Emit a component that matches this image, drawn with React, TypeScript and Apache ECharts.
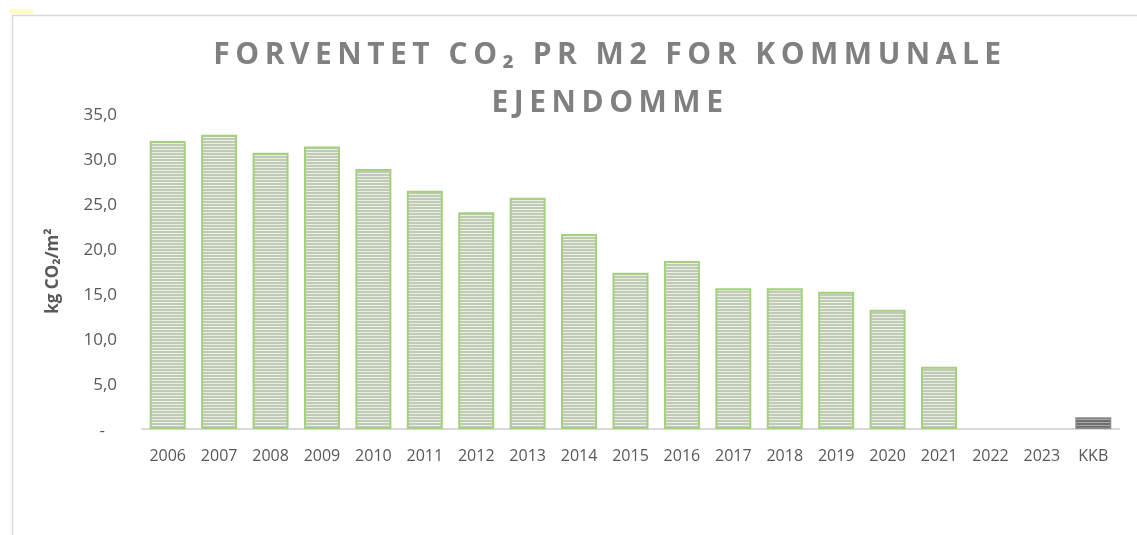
import React, { useEffect, useRef } from "react";
import * as echarts from "echarts";

const categories = ["2006","2007","2008","2009","2010","2011","2012","2013","2014","2015","2016","2017","2018","2019","2020","2021","2022","2023","KKB"];
const values = [31.9, 32.6, 30.6, 31.3, 28.8, 26.4, 24.0, 25.6, 21.6, 17.3, 18.6, 15.6, 15.6, 15.2, 13.2, 6.9, 0, 0, 1.3];
const highlighted = ["KKB"];
const yTicks = { min: 0, max: 35, interval: 5 };
const titleLines = ["FORVENTET CO\u2082 PR M2 FOR KOMMUNALE", "EJENDOMME"];
const yAxisTitle = "kg CO\u2082/m\u00b2";

const FONT = "'Open Sans', 'Noto Sans', sans-serif";

function stripes(line: string, gap: string) {
  const c = document.createElement("canvas");
  c.width = 4;
  c.height = 3;
  const ctx = c.getContext("2d")!;
  ctx.fillStyle = gap;
  ctx.fillRect(0, 0, 4, 3);
  ctx.fillStyle = line;
  ctx.fillRect(0, 0, 4, 2);
  return { image: c, repeat: "repeat" };
}

export default function App() {
  const ref = useRef<HTMLDivElement>(null);
  useEffect(() => {
    if (!ref.current) return;
    const chart = echarts.init(ref.current, null, { renderer: "svg" });
    const greenStyle = {
      color: stripes("#c2c9bb", "#e6f2dc"),
      borderColor: "#a3d17e",
      borderWidth: 2,
    };
    const greyStyle = {
      color: stripes("#6f6f6f", "#a8a8a8"),
      borderColor: "#8c8c8c",
      borderWidth: 1.5,
    };
    const titleStyle = {
      fontFamily: FONT,
      fontWeight: "bold",
      fontSize: 30,
      fill: "#808080",
      textAlign: "center",
      textVerticalAlign: "middle",
    };
    chart.setOption({
      animation: false,
      graphic: [
        { type: "line", shape: { x1: 12, y1: 15.5, x2: 1137, y2: 15.5 }, style: { stroke: "#d9d9d9", lineWidth: 1.5 } },
        { type: "line", shape: { x1: 12.5, y1: 15, x2: 12.5, y2: 535 }, style: { stroke: "#d9d9d9", lineWidth: 1.5 } },
        { type: "rect", shape: { x: 10, y: 9, width: 23, height: 5 }, style: { fill: "#fffbc4" } },
        { type: "text", x: 610, y: 52, style: { ...titleStyle, text: titleLines[0] } },
        { type: "text", x: 610, y: 100, style: { ...titleStyle, text: titleLines[1] } },
      ],
      grid: { left: 142, right: 18, top: 113, bottom: 106 },
      xAxis: {
        type: "category",
        data: categories,
        axisLine: { lineStyle: { color: "#d9d9d9", width: 2 } },
        axisTick: { show: false },
        axisLabel: { color: "#595959", fontFamily: FONT, fontSize: 16, margin: 18, interval: 0 },
      },
      yAxis: {
        type: "value",
        min: yTicks.min,
        max: yTicks.max,
        interval: yTicks.interval,
        name: yAxisTitle,
        nameLocation: "middle",
        nameRotate: 90,
        nameGap: 82,
        nameTextStyle: { color: "#595959", fontFamily: FONT, fontSize: 17, fontWeight: "bold" },
        axisLine: { show: false },
        axisTick: { show: false },
        splitLine: { show: false },
        axisLabel: {
          color: "#595959",
          fontFamily: FONT,
          fontSize: 17,
          margin: 25,
          formatter: (v: number) => (v === 0 ? "{d|-}" : v.toFixed(1).replace(".", ",")),
          rich: { d: { color: "#595959", fontFamily: FONT, fontSize: 17, padding: [0, 12, 0, 0] } },
        },
      },
      series: [
        {
          type: "bar",
          barCategoryGap: "30%",
          z: 1,
          data: values.map((v, i) => {
            const base = highlighted.includes(categories[i]) ? greyStyle : greenStyle;
            return {
              value: v,
              itemStyle: v === 0 ? { ...base, borderWidth: 0 } : base,
            };
          }),
        },
      ],
    });
    const applySpacing = () => {
      const texts = ref.current?.querySelectorAll("text") || [];
      texts.forEach((t) => {
        const c = (t.textContent || "").trim();
        if (titleLines.includes(c)) {
          (t as SVGTextElement).style.letterSpacing = "5.5px";
        }
      });
    };
    applySpacing();
    chart.on("finished", applySpacing);
    return () => chart.dispose();
  }, []);
  return <div ref={ref} style={{ position: "fixed", left: 0, top: 0, width: 1137, height: 535 }} />;
}
